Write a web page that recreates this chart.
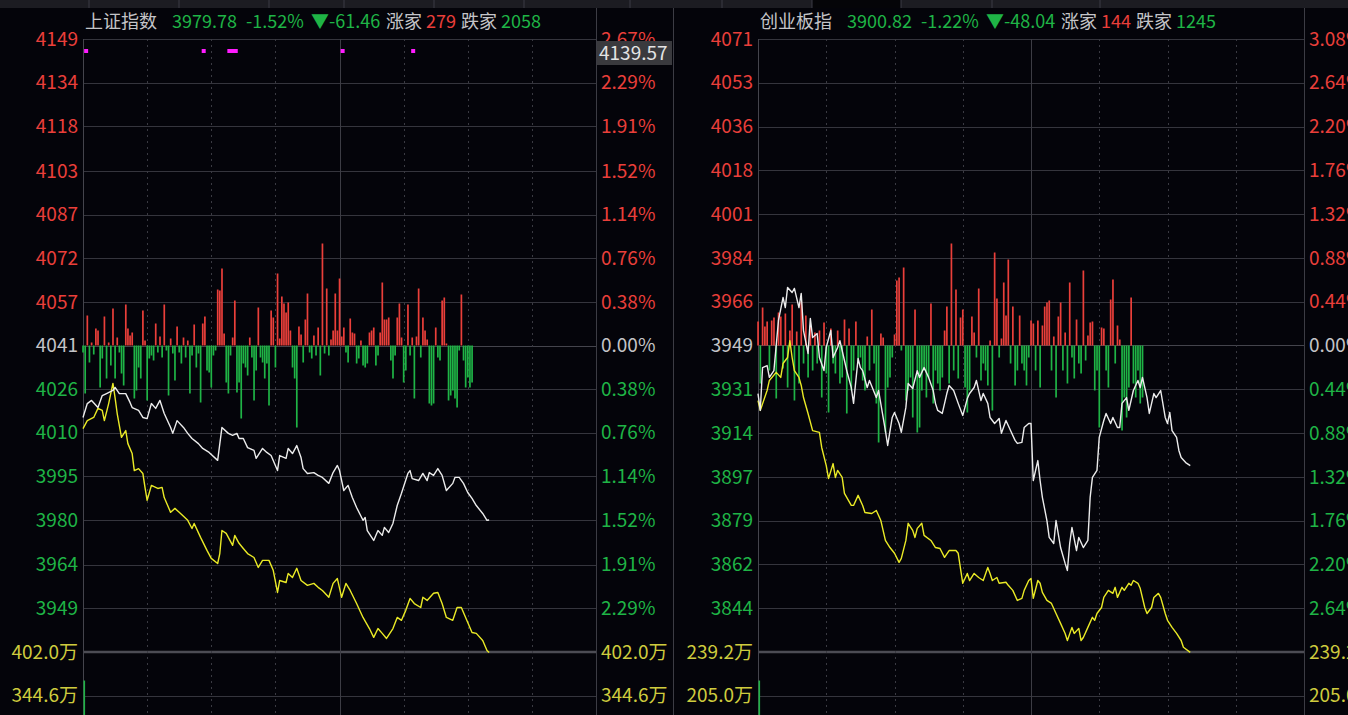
<!DOCTYPE html>
<html>
<head>
<meta charset="utf-8">
<script src="https://cdn.jsdelivr.net/npm/d3@7"></script>
<style>
  html, body { margin: 0; padding: 0; background: #04040a; overflow: hidden; }
  svg { display: block; }
  text { font-family: "Microsoft YaHei", "Noto Sans CJK SC", "Noto Sans", sans-serif; }
</style>
</head>
<body>
<div id="chart"></div>
<script>
// ---- 上证指数 ----
var shName = '上证指数'
var shQuote = ['3979.78', '-1.52%', '▼-61.46']
var shUpDown = [279, 2058]
var shPrevClose = 4041.24
var shPct = [2.67, 2.29, 1.91, 1.52, 1.14, 0.76, 0.38, 0, -0.38, -0.76, -1.14, -1.52, -1.91, -2.29]
var shPriceLabels = ['4149', '4134', '4118', '4103', '4087', '4072', '4057', '4041', '4026', '4010', '3995', '3980', '3964', '3949']
var shVolLabels = ['402.0万', '344.6万']
var shVolValues = [402.0, 344.6]
var shOpenVolume = 364.6
var shCursor = '4139.57'
var shSignals = [1, 56, 68, 69, 70, 71, 121, 154]

var shWhite = [[0,4015.9],[2,4020.8],[4,4021.9],[7,4019.4],[9,4023.6],[11,4024.3],[14,4025.4],[15,4026.5],[17,4024.3],[20,4024.3],[22,4021.2],[23,4019.4],[26,4018.4],[28,4015.9],[30,4015.5],[32,4020.8],[34,4019.1],[36,4021.9],[38,4017.3],[41,4012.4],[42,4010.3],[44,4014.8],[47,4012.4],[49,4010.3],[51,4008.5],[54,4006.7],[56,4005.0],[59,4003.6],[63,4000.8],[65,4012.4],[68,4010.3],[70,4009.6],[72,4010.3],[73,4008.5],[75,4008.5],[77,4005.3],[80,4004.3],[81,4001.5],[84,4005.0],[86,4003.6],[88,4002.5],[91,3997.2],[92,4002.5],[95,4001.5],[96,4005.0],[98,4003.2],[100,4006.0],[102,4001.8],[103,3997.9],[105,3996.2],[108,3996.5],[110,3995.5],[112,3994.8],[115,3992.7],[117,3996.5],[119,3999.0],[120,3997.2],[122,3990.2],[124,3992.0],[126,3987.7],[128,3984.2],[131,3979.7],[132,3980.7],[133,3976.1],[136,3972.6],[138,3976.1],[140,3974.4],[141,3977.2],[143,3975.4],[145,3978.6],[147,3984.9],[149,3989.2],[152,3996.2],[153,3997.2],[154,3994.4],[157,3993.7],[159,3996.2],[161,3993.7],[162,3996.5],[164,3995.5],[166,3997.9],[168,3995.5],[170,3990.2],[173,3992.7],[174,3994.8],[176,3994.8],[178,3992.7],[180,3989.5],[182,3987.4],[184,3984.9],[187,3982.1],[189,3979.7],[190,3979.8]]

var shYellow = [[0,4012.0],[2,4014.8],[5,4015.9],[7,4019.1],[9,4018.4],[10,4014.8],[12,4020.8],[14,4027.9],[15,4022.9],[16,4017.3],[18,4008.9],[20,4011.3],[21,4006.7],[23,4003.2],[24,3997.2],[26,3997.9],[28,3996.2],[29,3991.3],[30,3986.7],[32,3992.0],[35,3990.9],[37,3991.3],[38,3987.7],[41,3982.5],[43,3983.9],[45,3982.5],[49,3979.7],[51,3976.8],[52,3978.6],[55,3973.7],[58,3969.1],[60,3966.3],[63,3964.5],[64,3968.0],[65,3976.1],[67,3975.1],[70,3970.9],[71,3974.4],[73,3971.6],[75,3969.8],[77,3968.0],[80,3966.6],[82,3963.1],[84,3965.6],[87,3965.6],[89,3962.1],[91,3954.3],[92,3958.5],[95,3957.8],[96,3961.0],[98,3959.6],[100,3962.8],[102,3958.5],[105,3956.8],[108,3957.5],[110,3956.1],[112,3955.0],[115,3952.6],[117,3957.5],[119,3959.2],[121,3952.6],[123,3957.5],[125,3955.0],[128,3950.4],[131,3945.5],[134,3941.6],[136,3938.5],[138,3941.6],[140,3939.9],[142,3938.1],[145,3941.6],[147,3945.5],[149,3944.5],[151,3948.0],[153,3952.2],[155,3950.4],[158,3949.0],[159,3952.6],[161,3951.5],[164,3954.0],[166,3954.3],[168,3950.4],[170,3945.5],[173,3944.5],[175,3949.0],[177,3949.0],[180,3943.7],[182,3940.2],[184,3939.9],[187,3937.4],[189,3933.9],[190,3933.2]]

// up/down strength bars, one per minute (red up, green down)
var shBars = [-7,-48,30,-17,3,-9,17,15,-42,-13,
  29,-33,3,-20,37,-33,8,-7,-28,-40,
  41,17,10,13,-53,-45,-22,-33,35,5,
  -55,-13,-10,-15,22,-7,9,-12,41,-5,
  -50,7,-8,-35,19,-7,-18,8,-12,5,
  -48,-10,21,-22,-8,-57,22,29,-25,-27,
  0,-42,-10,-5,56,55,77,12,-37,-48,
  -10,8,45,-47,-37,-73,-18,-22,-30,8,
  -12,-55,-25,38,-12,-17,0,-33,-18,0,
  -60,35,28,-22,72,7,49,42,33,43,
  15,-22,-33,-82,19,11,-17,26,52,-7,
  -13,10,-10,18,-30,0,102,-8,57,-10,
  6,15,52,15,67,9,18,-7,-17,27,
  13,12,-18,-13,5,-20,-22,-18,13,15,
  18,-20,-10,13,63,26,26,28,-15,0,
  -33,-10,28,42,8,-37,-25,41,-10,8,
  -53,9,57,-12,28,15,6,0,-58,-60,
  -58,18,-12,-15,0,45,48,2,-55,-50,
  -45,-53,-62,-5,51,-15,-42,0,-32,-42,
  -37]

// ---- 创业板指 ----
var cyName = '创业板指'
var cyQuote = ['3900.82', '-1.22%', '▼-48.04']
var cyUpDown = [144, 1245]
var cyPrevClose = 3948.86
var cyPct = [3.08, 2.64, 2.20, 1.76, 1.32, 0.88, 0.44, 0, -0.44, -0.88, -1.32, -1.76, -2.20, -2.64]
var cyPriceLabels = ['4071', '4053', '4036', '4018', '4001', '3984', '3966', '3949', '3931', '3914', '3897', '3879', '3862', '3844']
var cyVolLabels = ['239.2万', '205.0万']
var cyVolValues = [239.2, 205.0]
var cyOpenVolume = 216.9

var cyWhite = [[0,3929.8],[1,3923.1],[2,3940.1],[4,3940.9],[5,3936.2],[7,3938.9],[9,3958.8],[11,3967.9],[12,3963.9],[13,3971.9],[15,3969.9],[16,3971.5],[18,3963.9],[19,3969.5],[20,3954.8],[22,3945.7],[23,3959.6],[24,3952.0],[26,3953.6],[27,3944.1],[29,3938.9],[30,3948.1],[32,3954.8],[33,3944.1],[35,3948.1],[36,3950.8],[38,3942.9],[39,3938.9],[41,3932.2],[42,3925.9],[44,3943.7],[45,3940.1],[46,3938.9],[48,3932.2],[49,3935.0],[52,3928.2],[53,3931.0],[55,3920.3],[56,3915.1],[57,3909.2],[59,3920.3],[60,3922.3],[62,3917.9],[63,3914.4],[65,3924.3],[66,3933.8],[68,3931.8],[70,3938.9],[71,3936.2],[73,3940.1],[75,3936.2],[77,3931.0],[78,3925.9],[79,3923.1],[81,3921.9],[83,3929.8],[84,3933.0],[86,3931.0],[88,3925.9],[90,3921.1],[92,3927.8],[93,3929.8],[95,3932.2],[96,3935.0],[98,3927.0],[99,3929.8],[101,3925.9],[102,3920.3],[104,3917.9],[106,3919.9],[107,3914.0],[109,3919.1],[111,3915.1],[113,3911.2],[114,3910.0],[116,3910.4],[117,3916.3],[119,3917.9],[120,3917.9],[121,3895.3],[123,3903.2],[124,3895.3],[125,3888.6],[127,3879.4],[128,3872.7],[130,3870.3],[131,3879.4],[133,3868.7],[135,3862.4],[136,3859.6],[137,3870.3],[138,3876.7],[140,3867.5],[141,3872.7],[143,3868.7],[145,3871.5],[146,3888.6],[147,3896.5],[149,3899.3],[150,3912.4],[152,3919.1],[153,3921.9],[155,3917.9],[156,3920.3],[158,3916.3],[159,3916.3],[160,3925.9],[162,3928.2],[163,3923.1],[165,3931.0],[167,3935.0],[168,3932.2],[169,3936.2],[171,3928.2],[172,3921.9],[174,3929.8],[175,3928.2],[177,3931.0],[179,3920.3],[180,3917.9],[181,3922.3],[182,3915.1],[184,3912.4],[185,3907.2],[186,3904.4],[188,3902.4],[190,3901.2]]

var cyYellow = [[0,3927.0],[1,3923.1],[4,3931.0],[5,3935.0],[8,3938.2],[10,3936.2],[11,3941.7],[13,3944.1],[14,3950.8],[15,3944.1],[16,3938.9],[18,3936.2],[19,3933.0],[20,3928.2],[22,3921.9],[24,3915.1],[27,3914.4],[28,3908.4],[30,3901.2],[31,3896.1],[33,3902.0],[34,3896.5],[35,3899.3],[37,3896.5],[38,3890.2],[41,3885.4],[42,3885.4],[44,3889.4],[46,3885.4],[47,3882.6],[50,3882.2],[52,3883.4],[54,3879.4],[56,3871.5],[58,3868.7],[60,3866.4],[62,3862.8],[63,3864.4],[65,3871.5],[66,3878.3],[68,3875.5],[69,3872.7],[70,3876.3],[72,3878.3],[73,3873.5],[76,3871.5],[78,3868.7],[80,3868.3],[82,3864.8],[84,3867.5],[87,3867.5],[88,3866.4],[90,3854.5],[92,3858.4],[93,3855.6],[95,3858.4],[97,3856.8],[99,3855.6],[101,3860.8],[102,3858.4],[103,3855.6],[105,3856.8],[106,3854.5],[109,3854.9],[110,3853.7],[112,3851.7],[114,3847.7],[116,3848.5],[117,3851.7],[119,3855.6],[120,3856.4],[121,3848.5],[123,3855.6],[124,3854.5],[125,3850.9],[127,3847.7],[129,3846.5],[131,3842.5],[133,3838.6],[135,3834.6],[136,3831.8],[138,3837.0],[139,3834.6],[141,3836.6],[142,3831.8],[143,3833.0],[145,3837.0],[147,3841.0],[148,3839.8],[149,3842.5],[151,3844.9],[152,3848.9],[154,3851.7],[156,3850.5],[157,3852.9],[158,3848.9],[160,3852.9],[161,3851.7],[163,3854.5],[164,3853.7],[165,3855.6],[167,3854.5],[168,3852.5],[170,3844.9],[171,3842.5],[173,3844.9],[174,3848.9],[176,3850.5],[177,3848.9],[179,3842.5],[180,3839.8],[182,3837.0],[184,3834.6],[186,3831.8],[187,3829.1],[190,3827.1]]

var cyBars = [0,24,-38,38,19,24,-25,25,28,-53,
  33,29,-23,32,-42,15,41,-55,14,-38,
  44,-18,30,-32,20,-25,13,-18,15,-52,
  23,-28,-67,17,-18,-28,15,-38,-32,26,
  -68,17,-45,-25,24,-18,-12,-35,-45,9,
  0,-25,36,-18,-58,-97,12,8,-87,-42,
  0,-32,-12,11,65,68,-5,78,-55,-45,
  -32,0,-72,36,-87,-82,-45,-25,0,-52,
  0,-32,0,42,-58,-25,0,-38,-45,0,
  -32,15,39,-38,102,-25,56,0,-33,28,
  36,-42,-67,-45,29,13,-12,0,57,-35,
  -18,-25,-40,5,-65,0,93,47,-12,7,
  0,63,30,86,-18,39,-40,0,-25,30,
  -18,0,-25,0,-40,-12,25,0,22,-25,
  25,-42,0,20,39,0,43,45,-25,9,
  -52,29,43,-25,13,-38,63,-12,-33,26,
  -18,-28,75,-15,10,23,24,-45,-25,-82,
  18,17,-25,-42,46,66,-18,20,6,-85,
  -52,-72,-42,0,48,-38,-52,-25,-58,0,
  -52]

// session grid: every 30 minutes, lunch break at 120
var gridMinutes = [30, 60, 90, 120, 150, 180, 210]

;(function() {
  var width = 1348
  var height = 715
  var top = 39
  var bottom = 652

  var RED = '#ea3f3a'
  var GREEN = '#1fb446'
  var GRAY = '#c4c4c8'
  var VOL = '#cfcc3e'
  var GRID = '#35353d'
  var FONT = 19

  // header pieces sit at fixed offsets from the panel's left edge
  var headerOffsets = [0, 87, 161, 226, 301, 341, 376, 416]

  var svg = d3
    .select('#chart')
    .append('svg')
    .attr('width', width)
    .attr('height', height)

  svg
    .append('rect')
    .attr('width', width)
    .attr('height', height)
    .attr('fill', '#04040a')

  // tab strip across the top
  svg
    .append('rect')
    .attr('width', width)
    .attr('height', 8)
    .attr('fill', '#1c1c22')
  svg
    .append('rect')
    .attr('x', 812)
    .attr('width', 89)
    .attr('height', 8)
    .attr('fill', '#050508')
  svg
    .selectAll('.tab')
    .data([89, 179, 269, 344, 434, 524, 630, 722, 812, 901, 992, 1100])
    .enter()
    .append('line')
    .attr('class', 'tab')
    .attr('x1', d => d)
    .attr('x2', d => d)
    .attr('y1', 0)
    .attr('y2', 8)
    .attr('stroke', '#3a3a44')

  function colorFor(p) {
    if (p > 0) return RED
    if (p < 0) return GREEN
    return GRAY
  }

  function drawPanel(cfg) {
    var g = svg.append('g')
    var step = cfg.pct[0] / 7

    var xPositionScale = d3
      .scaleLinear()
      .domain([0, 240])
      .range([cfg.x0, cfg.x1])

    var yPositionScale = d3
      .scaleLinear()
      .domain([cfg.prev * (1 - (7 * step) / 100), cfg.prev * (1 + (7 * step) / 100)])
      .range([bottom, top])

    var rowHeight = (bottom - top) / 14
    var volumeScale = d3
      .scaleLinear()
      .domain(cfg.volValues)
      .range([bottom, bottom + rowHeight])

    var zeroY = yPositionScale(cfg.prev)
    var barScale = d3
      .scaleLinear()
      .domain([-100, 100])
      .range([zeroY + 100, zeroY - 100])

    var priceY = p => yPositionScale(cfg.prev * (1 + p / 100))

    // horizontal grid
    g.selectAll('.hgrid')
      .data(cfg.pct)
      .enter()
      .append('line')
      .attr('x1', cfg.x0)
      .attr('x2', cfg.x1)
      .attr('y1', d => Math.round(priceY(d)) + 0.5)
      .attr('y2', d => Math.round(priceY(d)) + 0.5)
      .attr('stroke', d => (d === 0 ? '#44444c' : GRID))

    g.append('line')
      .attr('x1', cfg.x0)
      .attr('x2', cfg.x1)
      .attr('y1', bottom)
      .attr('y2', bottom)
      .attr('stroke', '#4c4c54')
      .attr('stroke-width', 2.5)

    g.append('line')
      .attr('x1', cfg.x0)
      .attr('x2', cfg.x1)
      .attr('y1', Math.round(volumeScale(cfg.volValues[1])) + 0.5)
      .attr('y2', Math.round(volumeScale(cfg.volValues[1])) + 0.5)
      .attr('stroke', GRID)

    // vertical grid
    g.selectAll('.vgrid')
      .data(gridMinutes)
      .enter()
      .append('line')
      .attr('x1', d => Math.round(xPositionScale(d)) + 0.5)
      .attr('x2', d => Math.round(xPositionScale(d)) + 0.5)
      .attr('y1', top)
      .attr('y2', height)
      .attr('stroke', d => (d === 120 ? '#3c3c44' : '#3a3a42'))
      .attr('stroke-dasharray', d => (d === 120 ? null : '2,4'))

    // borders
    g.append('line')
      .attr('x1', cfg.x0 + 0.5)
      .attr('x2', cfg.x0 + 0.5)
      .attr('y1', top)
      .attr('y2', height)
      .attr('stroke', '#44444c')
    g.append('line')
      .attr('x1', cfg.x1 + 0.5)
      .attr('x2', cfg.x1 + 0.5)
      .attr('y1', 8)
      .attr('y2', height)
      .attr('stroke', '#3c3c44')

    // strength bars
    g.selectAll('.bar')
      .data(cfg.bars)
      .enter()
      .append('rect')
      .filter(d => d !== 0)
      .attr('x', (d, i) => xPositionScale(i) - 0.8)
      .attr('width', 1.7)
      .attr('y', d => Math.min(barScale(d), zeroY))
      .attr('height', d => Math.abs(barScale(d) - zeroY))
      .attr('fill', d => (d > 0 ? RED : GREEN))

    // opening volume bar
    g.append('rect')
      .attr('x', xPositionScale(0) + 0.5)
      .attr('width', 1.6)
      .attr('y', volumeScale(cfg.openVolume))
      .attr('height', height - volumeScale(cfg.openVolume))
      .attr('fill', GREEN)

    var line = d3
      .line()
      .x(d => xPositionScale(d[0]))
      .y(d => yPositionScale(d[1]))

    g.append('path')
      .datum(cfg.yellow)
      .attr('d', line)
      .attr('fill', 'none')
      .attr('stroke', '#eaea26')
      .attr('stroke-width', 1.4)
      .attr('stroke-linejoin', 'round')

    g.append('path')
      .datum(cfg.white)
      .attr('d', line)
      .attr('fill', 'none')
      .attr('stroke', '#ececec')
      .attr('stroke-width', 1.4)
      .attr('stroke-linejoin', 'round')

    // signal dots
    if (cfg.signals) {
      g.selectAll('.sig')
        .data(cfg.signals)
        .enter()
        .append('rect')
        .attr('x', d => xPositionScale(d) - 1)
        .attr('y', 49)
        .attr('width', 4)
        .attr('height', 4)
        .attr('fill', '#ff1cff')
    }

    // left price labels
    g.selectAll('.plabel')
      .data(cfg.priceLabels)
      .enter()
      .append('text')
      .attr('x', cfg.x0 - 5)
      .attr('y', (d, i) => priceY(cfg.pct[i]))
      .attr('dy', '0.35em')
      .attr('text-anchor', 'end')
      .attr('font-size', FONT)
      .attr('fill', (d, i) => colorFor(cfg.pct[i]))
      .text(d => d)

    // right percent labels
    g.selectAll('.rlabel')
      .data(cfg.pct)
      .enter()
      .append('text')
      .attr('x', cfg.x1 + 5)
      .attr('y', d => priceY(d))
      .attr('dy', '0.35em')
      .attr('font-size', FONT)
      .attr('fill', d => colorFor(d))
      .text(d => Math.abs(d).toFixed(2) + '%')

    // volume labels on both sides
    cfg.volLabels.forEach(function(lab, i) {
      var y = volumeScale(cfg.volValues[i])
      g.append('text')
        .attr('x', cfg.x0 - 5)
        .attr('y', y)
        .attr('dy', '0.35em')
        .attr('text-anchor', 'end')
        .attr('font-size', FONT)
        .attr('fill', VOL)
        .text(lab)
      g.append('text')
        .attr('x', cfg.x1 + 5)
        .attr('y', y)
        .attr('dy', '0.35em')
        .attr('font-size', FONT)
        .attr('fill', VOL)
        .text(lab)
    })

    // cursor price box
    if (cfg.cursor) {
      g.append('rect')
        .attr('x', cfg.x1 + 1)
        .attr('y', 41)
        .attr('width', 75)
        .attr('height', 24)
        .attr('fill', '#3a3a3e')
      g.append('text')
        .attr('x', cfg.x1 + 3)
        .attr('y', 53)
        .attr('dy', '0.35em')
        .attr('font-size', FONT)
        .attr('fill', '#e4e4e4')
        .text(cfg.cursor)
    }

    // header
    var pieces = [
      [cfg.name, GRAY],
      [cfg.quote[0], GREEN],
      [cfg.quote[1], GREEN],
      [cfg.quote[2], GREEN],
      ['涨家', GRAY],
      [String(cfg.upDown[0]), RED],
      ['跌家', GRAY],
      [String(cfg.upDown[1]), GREEN]
    ]
    g.selectAll('.head')
      .data(pieces)
      .enter()
      .append('text')
      .attr('x', (d, i) => cfg.x0 + 2 + headerOffsets[i])
      .attr('y', 22)
      .attr('dy', '0.35em')
      .attr('font-size', 18)
      .attr('fill', d => d[1])
      .text(d => d[0])
  }

  drawPanel({
    x0: 83,
    x1: 596,
    prev: shPrevClose,
    pct: shPct,
    priceLabels: shPriceLabels,
    volLabels: shVolLabels,
    volValues: shVolValues,
    openVolume: shOpenVolume,
    white: shWhite,
    yellow: shYellow,
    bars: shBars,
    signals: shSignals,
    cursor: shCursor,
    name: shName,
    quote: shQuote,
    upDown: shUpDown
  })

  drawPanel({
    x0: 758,
    x1: 1304,
    prev: cyPrevClose,
    pct: cyPct,
    priceLabels: cyPriceLabels,
    volLabels: cyVolLabels,
    volValues: cyVolValues,
    openVolume: cyOpenVolume,
    white: cyWhite,
    yellow: cyYellow,
    bars: cyBars,
    name: cyName,
    quote: cyQuote,
    upDown: cyUpDown
  })

  // divider between the two panels
  svg
    .append('line')
    .attr('x1', 673.5)
    .attr('x2', 673.5)
    .attr('y1', 8)
    .attr('y2', height)
    .attr('stroke', '#3c3c44')
})()
</script>
</body>
</html>
